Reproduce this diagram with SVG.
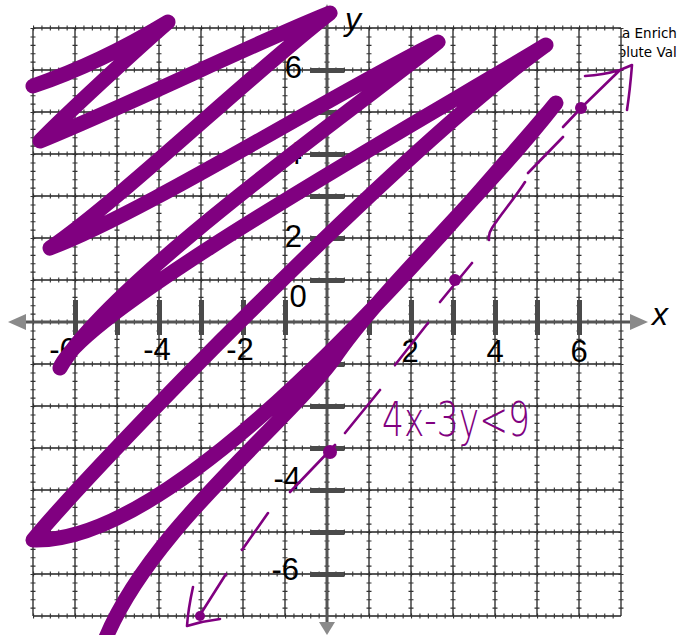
<svg xmlns="http://www.w3.org/2000/svg" width="679" height="635" viewBox="0 0 679 635">
<style>
.gl{fill:none;stroke:#222;stroke-width:1.3}
.tk{fill:none;stroke:#333;stroke-width:5;stroke-dasharray:1.1 7.3}
.bar{fill:#4a4a4a}
.axis{stroke:#555;stroke-width:3;fill:none}
.arr{fill:#8a8a8a}
.num{font-family:"Liberation Sans",Arial,sans-serif;font-size:31px;fill:#000}
.var{font-family:"Liberation Sans",Arial,sans-serif;font-size:32px;font-style:italic;fill:#000}
.hdr{font-family:"DejaVu Sans",Verdana,sans-serif;font-size:13.5px;fill:#000}
.big{fill:none;stroke:#800080;stroke-width:15;stroke-linecap:round;stroke-linejoin:round}
.pen{fill:none;stroke:#800080;stroke-width:2.6;stroke-linecap:round;stroke-linejoin:round}
.dot{fill:#800080}
.hand{font-family:"DejaVu Sans",Verdana,sans-serif;font-size:48px;font-weight:200;fill:#800080}
</style>
<rect x="0" y="0" width="679" height="635" fill="#fff"/>
<g id="header">
<text class="hdr" x="622" y="38">a Enrich</text>
<text class="hdr" x="618" y="57">olute Val</text>
</g>
<g id="grid">
<rect x="33" y="28" width="588" height="588" fill="#fff"/>
<path class="gl" d="M33 28V616M75 28V616M117 28V616M159 28V616M201 28V616M243 28V616M285 28V616M369 28V616M411 28V616M453 28V616M495 28V616M537 28V616M579 28V616M621 28V616M33 28H621M33 70H621M33 112H621M33 154H621M33 196H621M33 238H621M33 280H621M33 364H621M33 406H621M33 448H621M33 490H621M33 532H621M33 574H621M33 616H621"/>
<path class="tk" d="M33 28V616M75 28V616M117 28V616M159 28V616M201 28V616M243 28V616M285 28V616M327 28V616M369 28V616M411 28V616M453 28V616M495 28V616M537 28V616M579 28V616M621 28V616M33 28H621M33 70H621M33 112H621M33 154H621M33 196H621M33 238H621M33 280H621M33 322H621M33 364H621M33 406H621M33 448H621M33 490H621M33 532H621M33 574H621M33 616H621"/>
</g>
<g id="axes">
<path class="axis" d="M20 322H634M327 12V624"/>
<path class="arr" d="M8 322L26 314V330Z"/>
<path class="arr" d="M648 322L630 314V330Z"/>
<path class="arr" d="M327 635L319 622H335Z"/>
<path class="arr" d="M327 4L322 14H332Z"/>
<g class="bar">
<rect x="73" y="300" width="5" height="35"/><rect x="115" y="300" width="5" height="35"/><rect x="157" y="300" width="5" height="35"/><rect x="199" y="300" width="5" height="35"/><rect x="241" y="300" width="5" height="35"/><rect x="283" y="300" width="5" height="35"/><rect x="367" y="300" width="5" height="35"/><rect x="409" y="300" width="5" height="35"/><rect x="451" y="300" width="5" height="35"/><rect x="493" y="300" width="5" height="35"/><rect x="535" y="300" width="5" height="35"/><rect x="577" y="300" width="5" height="35"/>
<rect x="310" y="68" width="34" height="5"/><rect x="310" y="110" width="34" height="5"/><rect x="310" y="152" width="34" height="5"/><rect x="310" y="194" width="34" height="5"/><rect x="310" y="236" width="34" height="5"/><rect x="310" y="278" width="34" height="5"/><rect x="310" y="362" width="34" height="5"/><rect x="310" y="404" width="34" height="5"/><rect x="310" y="446" width="34" height="5"/><rect x="310" y="488" width="34" height="5"/><rect x="310" y="530" width="34" height="5"/><rect x="310" y="572" width="34" height="5"/>
</g>
</g>
<g id="labels">
<text class="num" x="63" y="360" text-anchor="middle">-6</text>
<text class="num" x="157" y="360" text-anchor="middle">-4</text>
<text class="num" x="240" y="360" text-anchor="middle">-2</text>
<text class="num" x="410" y="362" text-anchor="middle">2</text>
<text class="num" x="495" y="362" text-anchor="middle">4</text>
<text class="num" x="579" y="362" text-anchor="middle">6</text>
<text class="num" x="298" y="307" text-anchor="middle">0</text>
<text class="num" x="302" y="78" text-anchor="end">6</text>
<text class="num" x="302" y="164" text-anchor="end">4</text>
<text class="num" x="302" y="247" text-anchor="end">2</text>
<text class="num" x="300" y="410" text-anchor="end">-2</text>
<text class="num" x="301" y="489" text-anchor="end">-4</text>
<text class="num" x="299" y="580" text-anchor="end">-6</text>
<text class="var" x="652" y="325">x</text>
<text class="var" x="345" y="30">y</text>
</g>
<g id="scribble">
<path class="big" d="M33 86C80 70 130 45 168 22C130 55 60 120 40 141C140 100 250 45 330 13C250 75 120 200 50 248C140 215 340 90 438 42C380 90 110 280 60 368C80 310 440 110 546 45C400 150 90 470 33 540C180 545 430 250 556 103C480 200 380 290 333 360C280 430 150 530 105 640"/>
</g>
<g id="boundary">
<path class="pen" d="M563 127L582 107L620 70M585 76Q603 75 620 70L632 65Q630 90 627 110"/>
<circle class="dot" cx="581" cy="108" r="6"/>
<path class="pen" d="M563 137L528 173M525 182C515 198 500 215 492 228Q488 234 489 240M440 302L472 263M428 323L395 365M380 390L345 433M290 492L335 445M268 513L242 550M226 574L200 615M193 587Q188 610 187 626Q203 621 220 619"/>
<circle class="dot" cx="455" cy="280" r="6"/>
<circle class="dot" cx="330" cy="452" r="7"/>
<circle class="dot" cx="200" cy="616" r="5"/>
<text class="hand" x="382" y="436" textLength="148" lengthAdjust="spacingAndGlyphs">4x-3y&lt;9</text>
</g>
</svg>
